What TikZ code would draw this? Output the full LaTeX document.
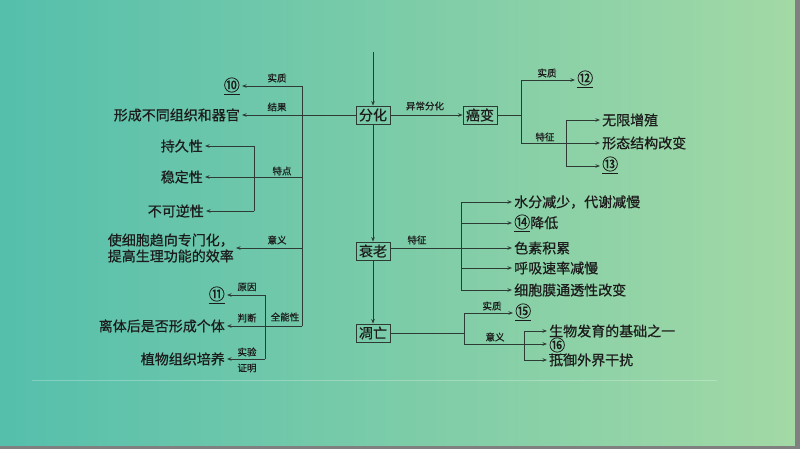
\documentclass[tikz,border=0pt]{standalone}
\usepackage{fontspec}
\setmainfont{Noto Sans CJK SC}[FakeBold=0.6]
\usetikzlibrary{arrows.meta}
\definecolor{bgL}{HTML}{55BFAC}
\definecolor{bgR}{HTML}{A3D9A5}
\definecolor{ink}{HTML}{1C1C1C}
\definecolor{lncol}{HTML}{2E3B34}
\definecolor{edge}{HTML}{808080}
\newcommand\circnum[1]{\underline{{\fontsize{16}{16}\selectfont #1}}}
\begin{document}
\begin{tikzpicture}[x=1pt,y=-1pt,
  txt/.style={font=\fontsize{14}{16}\selectfont, text=ink, inner sep=2pt},
  lt/.style={txt, anchor=east},
  rt/.style={txt, anchor=west},
  lab/.style={font=\fontsize{9.5}{11}\selectfont, text=ink, inner sep=1pt},
  box/.style={draw=lncol, line width=0.9pt, font=\fontsize{14}{15}\selectfont, text=ink, minimum width=34pt, minimum height=18pt, inner sep=1pt},
  ln/.style={draw=lncol, line width=0.9pt},
  arr/.style={ln, -{Stealth[length=4.5pt,width=3.5pt]}},
]
\useasboundingbox (0,0) rectangle (800,449);
\shade[left color=bgL, right color=bgR] (0,0) rectangle (800,449);
\fill[edge] (795,0) rectangle (800,449);
\fill[edge] (0,446) rectangle (800,449);
\draw[white, opacity=0.25, line width=1pt] (32,380) -- (717,380);

% central boxes
\coordinate (top) at (373,52);
\node[box] (fh) at (373,115) {分化};
\node[box] (ab) at (480,115) {癌变};
\node[box] (sl) at (373,251) {衰老};
\node[box] (dw) at (373,333) {凋亡};
\draw[arr] (top) -- (fh.north);
\draw[arr] (fh.south) -- (sl.north);
\draw[arr] (sl.south) -- (dw.north);
\draw[arr] (fh.east) -- (ab.west);
\node[lab] at (425,106) {异常分化};

% left tree
\node[lt] (n10) at (242,86) {\circnum{⑩}};
\node[lt] (xc) at (242,115) {形成不同组织和器官};
\node[lt] (cjx) at (205,146) {持久性};
\node[lt] (wdx) at (205,177) {稳定性};
\node[lt] (bkn) at (206,211) {不可逆性};
\node[lt, align=left] (yy) at (236,248) {使细胞趋向专门化，\\提高生理功能的效率};
\node[lt] (n11) at (227,295) {\circnum{⑪}};
\node[lt] (lt1) at (227,326) {离体后是否形成个体};
\node[lt] (zw) at (227,359) {植物组织培养};
\coordinate (L1t) at (302,86);
\coordinate (L1b) at (302,326);
\coordinate (L2t) at (254,146);
\coordinate (L2b) at (254,211);
\coordinate (L3t) at (265,295);
\coordinate (L3b) at (265,359);
\draw[arr] (fh.west) -- (xc.east);
\draw[ln] (L1t) -- (L1b);
\draw[arr] (L1t) -- (n10.east);
\draw[arr] (L1t |- wdx.east) -- (wdx.east);
\draw[arr] (L1t |- yy.east) -- (yy.east);
\draw[arr] (L1b) -- (lt1.east);
\draw[ln] (L2t) -- (L2b);
\draw[arr] (L2t) -- (cjx.east);
\draw[arr] (L2b) -- (bkn.east);
\draw[ln] (L3t) -- (L3b);
\draw[arr] (L3t) -- (n11.east);
\draw[arr] (L3b) -- (zw.east);
\node[lab] at (277,78) {实质};
\node[lab] at (277,107) {结果};
\node[lab] at (282,171) {特点};
\node[lab] at (277,240) {意义};
\node[lab] at (285,317) {全能性};
\node[lab] at (247,287) {原因};
\node[lab] at (247,318) {判断};
\node[lab] at (247,352) {实验};
\node[lab] at (247,368) {证明};

% cancer branch
\coordinate (R1) at (521,115);
\coordinate (R1t) at (521,80);
\coordinate (R1b) at (521,143);
\coordinate (R2t) at (566,120);
\coordinate (R2b) at (566,166);
\node[rt] (n12) at (575,79) {\circnum{⑫}};
\node[rt] (wx) at (600,120) {无限增殖};
\node[rt] (xt) at (600,143) {形态结构改变};
\node[rt] (n13) at (600,165) {\circnum{⑬}};
\draw[ln] (ab.east) -- (R1);
\draw[ln] (R1t) -- (R1b);
\draw[arr] (R1t) -- (n12.west |- R1t);
\draw[arr] (R1b) -- (xt.west);
\draw[ln] (R2t) -- (R2b);
\draw[arr] (R2t) -- (wx.west);
\draw[arr] (R2b) -- (n13.west |- R2b);
\node[lab] at (547,73) {实质};
\node[lab] at (545,137) {特征};

% aging branch
\node[rt] (sf) at (512,202) {水分减少，代谢减慢};
\node[rt] (n14) at (512,223) {\circnum{⑭}降低};
\node[rt] (ss) at (512,248) {色素积累};
\node[rt] (hx) at (512,268) {呼吸速率减慢};
\node[rt] (xb) at (512,290) {细胞膜通透性改变};
\coordinate (S1t) at (461,202);
\coordinate (S1b) at (461,290);
\draw[arr] (sl.east |- ss.west) -- (ss.west);
\draw[ln] (S1t) -- (S1b);
\draw[arr] (S1t) -- (sf.west);
\draw[arr] (S1t |- n14.west) -- (n14.west);
\draw[arr] (S1t |- hx.west) -- (hx.west);
\draw[arr] (S1b) -- (xb.west);
\node[lab] at (417,240) {特征};

% apoptosis branch
\coordinate (D1) at (464,333);
\coordinate (D1t) at (464,313);
\coordinate (D1b) at (464,344);
\coordinate (D2t) at (524,331);
\coordinate (D2b) at (524,360);
\node[rt] (n15) at (513,312) {\circnum{⑮}};
\node[rt] (sw) at (547,331) {生物发育的基础之一};
\node[rt] (n16) at (547,346) {\circnum{⑯}};
\node[rt] (dy) at (547,360) {抵御外界干扰};
\draw[ln] (dw.east) -- (D1);
\draw[ln] (D1t) -- (D1b);
\draw[arr] (D1t) -- (n15.west |- D1t);
\draw[arr] (D1b) -- (n16.west |- D1b);
\draw[ln] (D2t) -- (D2b);
\draw[arr] (D2t) -- (sw.west);
\draw[arr] (D2b) -- (dy.west);
\node[lab] at (492,306) {实质};
\node[lab] at (495,337) {意义};
\end{tikzpicture}
\end{document}
